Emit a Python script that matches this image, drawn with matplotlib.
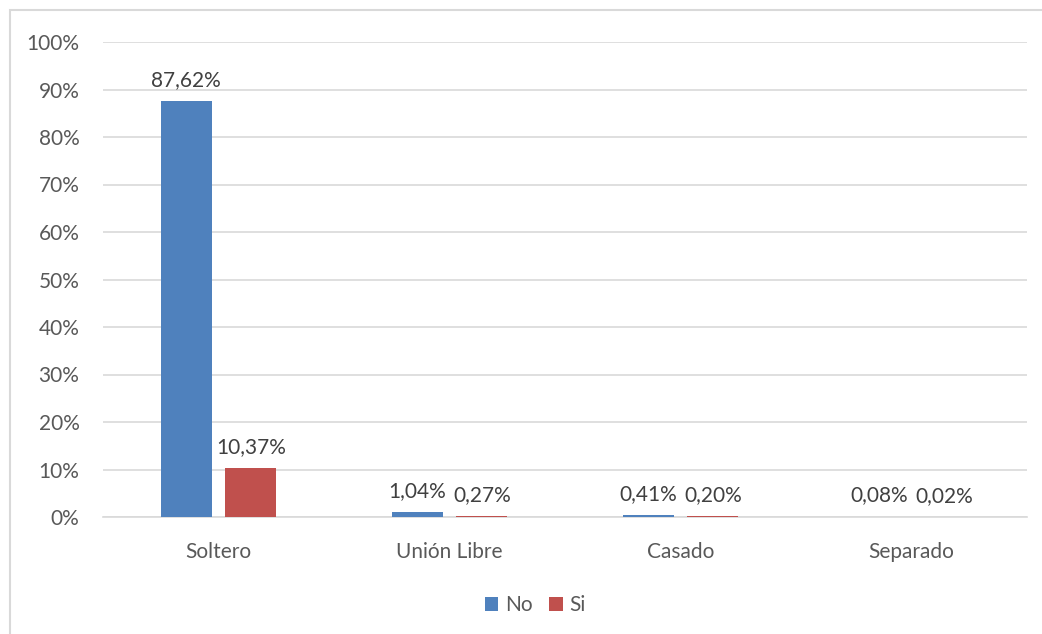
import matplotlib.pyplot as plt
import numpy as np
from matplotlib.patches import Rectangle

categories = ["Soltero", "Unión Libre", "Casado", "Separado"]
no_values = [87.62, 1.04, 0.41, 0.08]
si_values = [10.37, 0.27, 0.20, 0.02]
series_names = ["No", "Si"]
yticks = [0, 10, 20, 30, 40, 50, 60, 70, 80, 90, 100]

plt.rcParams['font.family'] = ['Lato', 'DejaVu Sans']

blue = '#4F81BD'
red = '#C0504D'
text_gray = '#595959'
label_gray = '#404040'
grid_gray = '#D9D9D9'
fs = 15

fig = plt.figure(figsize=(10.42, 6.34), dpi=100)
ax = fig.add_axes([103 / 1042, 1 - 517 / 634, 924 / 1042, 475 / 634])

# light chart border like excel's chart area
fig.patches.append(Rectangle((10 / 1042, -0.1), 1.2, 1 - 10 / 634 + 0.1,
                             transform=fig.transFigure, fill=False,
                             edgecolor='#D9D9D9', linewidth=1.5))

x = np.arange(len(categories))
width = 0.22
offset = 0.14

bars_no = ax.bar(x - offset, no_values, width, color=blue, label=series_names[0], zorder=3)
bars_si = ax.bar(x + offset, si_values, width, color=red, label=series_names[1], zorder=3)

for bars, vals in ((bars_no, no_values), (bars_si, si_values)):
    for b, v in zip(bars, vals):
        ax.annotate(f"{v:.2f}%".replace('.', ','),
                    (b.get_x() + b.get_width() / 2, v),
                    xytext=(0, 8), textcoords='offset points',
                    ha='center', va='bottom', fontsize=fs, color=label_gray)

ax.set_xlim(-0.5, len(categories) - 0.5)
ax.set_ylim(0, 100)
ax.set_yticks(yticks)
ax.set_yticklabels([f"{t}%" for t in yticks])
ax.set_xticks(x)
ax.set_xticklabels(categories)

ax.yaxis.grid(True, color=grid_gray, linewidth=1.2, zorder=0)
ax.set_axisbelow(True)
for s in ('top', 'right', 'left'):
    ax.spines[s].set_visible(False)
ax.spines['bottom'].set_color(grid_gray)
ax.spines['bottom'].set_linewidth(1.2)

ax.tick_params(axis='y', length=0, pad=17, labelsize=fs, labelcolor=text_gray)
ax.tick_params(axis='x', length=0, pad=18, labelsize=fs, labelcolor=text_gray)

fig.legend(loc='center', bbox_to_anchor=(535 / 1042, 1 - 605 / 634), ncol=2,
           frameon=False, fontsize=fs, handlelength=0.65, handleheight=0.65,
           handletextpad=0.3, columnspacing=0.8, labelcolor=text_gray)

fig.savefig('out.png', dpi=100)
